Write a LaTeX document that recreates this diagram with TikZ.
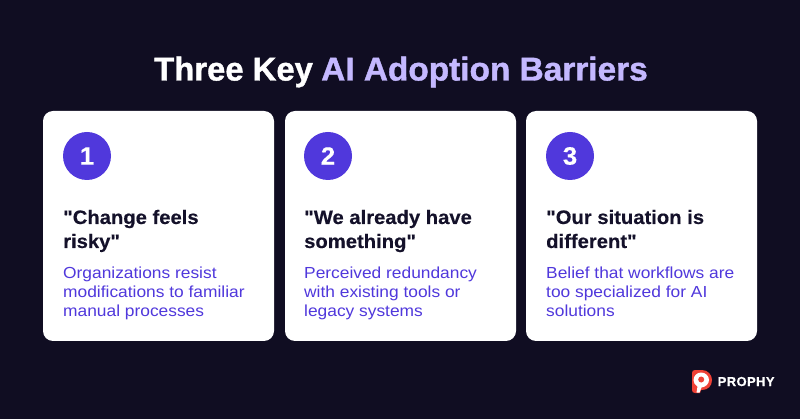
\documentclass[tikz,border=0pt]{standalone}
\usepackage{fontspec}
\setmainfont{Liberation Sans}[Ligatures=TeXOff]
\newfontfamily\bodyf{Liberation Sans}[Ligatures=TeXOff,FakeStretch=1.085]
\newfontfamily\headf{Liberation Sans Bold}[Ligatures=TeXOff,FakeStretch=1.037,FakeBold=0.3]
\newfontfamily\ttlf{Liberation Sans Bold}[Ligatures=TeXOff,FakeStretch=1.012,FakeBold=1.2]
\newfontfamily\ttlaf{Liberation Sans Bold}[Ligatures=TeXOff,FakeStretch=0.995,FakeBold=1.2]
\newfontfamily\logof{Liberation Sans Bold}[Ligatures=TeXOff,FakeBold=0.5,LetterSpace=3]
\definecolor{bgc}{HTML}{100D22}
\definecolor{lav}{HTML}{C4B8FF}
\definecolor{vio}{HTML}{5038DC}
\definecolor{inkc}{HTML}{14112A}
\definecolor{logored}{HTML}{EF4136}
\tikzset{
  x=1pt,y=-1pt,
  card/.style={fill=white,rounded corners=10pt,draw=none},
  badge/.style={circle,fill=vio,text=white,minimum size=48pt,inner sep=0pt,font=\fontsize{25}{25}\headf},
  head/.style={anchor=base west,inner sep=0pt,text=inkc,font=\fontsize{19.5}{19.5}\headf},
  body/.style={anchor=base west,inner sep=0pt,text=vio,font=\fontsize{16}{16}\bodyf},
  ttl/.style={anchor=base west,inner sep=0pt,font=\fontsize{33}{33}\ttlf},
  ttlw/.style={anchor=base west,inner sep=0pt,font=\fontsize{33}{33}\ttlaf},
}
\begin{document}
\begin{tikzpicture}
\useasboundingbox (0,0) rectangle (800,419);
\fill[bgc] (0,0) rectangle (800,419);
\node[ttlw,text=white] (t1) at (154,80.5) {Three Key};
\node[ttl,text=lav] (t2) at (321,80.5) {AI Adoption Barriers};

\fill[card] (43,111) rectangle (274,341);
\fill[card] (285,111) rectangle (516,341);
\fill[card] (526,111) rectangle (757,341);

\node[badge] (b1) at (87,156) {1};
\node[badge] (b2) at (328,156) {2};
\node[badge] (b3) at (570,156) {3};

\node[head] (h1a) at (63,224) {"Change feels};
\node[head] (h1b) at (63,248) {risky"};
\node[head] (h2a) at (304,224) {"We already have};
\node[head] (h2b) at (304,248) {something"};
\node[head] (h3a) at (546,224) {"Our situation is};
\node[head] (h3b) at (546,248) {different"};

\node[body] (d1a) at (63,279) {Organizations resist};
\node[body] (d1b) at (63,298) {modifications to familiar};
\node[body] (d1c) at (63,317) {manual processes};
\node[body] (d2a) at (304,279) {Perceived redundancy};
\node[body] (d2b) at (304,298) {with existing tools or};
\node[body] (d2c) at (304,317) {legacy systems};
\node[body] (d3a) at (546,279) {Belief that workflows are};
\node[body] (d3b) at (546,298) {too specialized for AI};
\node[body] (d3c) at (546,317) {solutions};

% logo
\fill[logored] (692,373) .. controls (692,371) and (693,370) .. (695,370) -- (702,370)
  .. controls (708,370) and (712,375) .. (712,380) .. controls (712,386) and (708,390) .. (702,390)
  -- (701,390) -- (700,393) -- (695,393) .. controls (693,393) and (692,392) .. (692,390) -- cycle;
\fill[white] (701,372.5) .. controls (705.5,372.5) and (709,376) .. (709,380) .. controls (709,384) and (705.5,387) .. (701.5,387.5)
  -- (699.5,392.5) -- (696.5,392.5) -- (697.5,386.5) .. controls (695,385) and (693.5,383) .. (693.5,380)
  .. controls (693.5,376) and (697,372.5) .. (701,372.5) -- cycle;
\fill[logored] (701.2,379.5) circle (3);
\node[anchor=base west,inner sep=0pt,text=white,font=\fontsize{13}{13}\logof] (lg) at (717.5,386) {PROPHY};
\end{tikzpicture}
\end{document}
